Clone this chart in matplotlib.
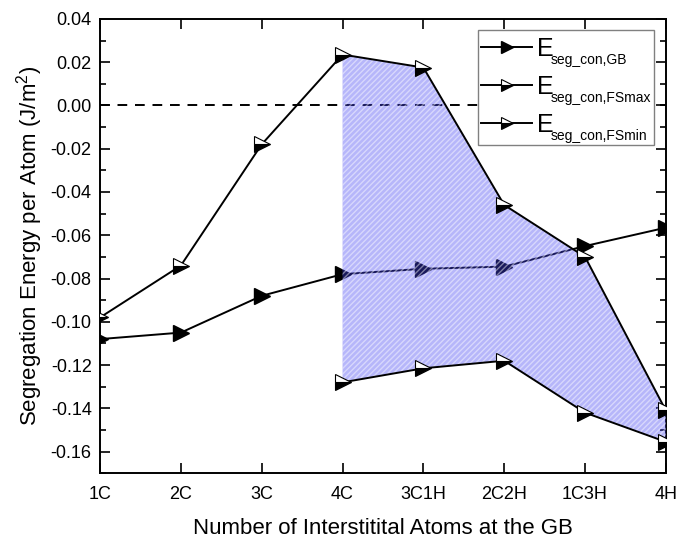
import matplotlib.pyplot as plt
import numpy as np
from matplotlib.lines import Line2D
from matplotlib.patches import Rectangle
from matplotlib.ticker import MultipleLocator

plt.rcParams['font.family'] = ['Liberation Sans', 'DejaVu Sans']
plt.rcParams['mathtext.fontset'] = 'custom'
plt.rcParams['mathtext.rm'] = 'Liberation Sans'
plt.rcParams['hatch.linewidth'] = 1.0

# %%
# Data
# -------------------------
categories = ["1C", "2C", "3C", "4C", "3C1H", "2C2H", "1C3H", "4H"]
e_gb = [-0.108, -0.105, -0.088, -0.078, -0.0755, -0.0745, -0.065, -0.0565]
e_fsmax = [-0.098, -0.074, -0.018, 0.0235, 0.0175, -0.046, -0.070, -0.141]
e_fsmin = [np.nan, np.nan, np.nan, -0.128, -0.1215, -0.118, -0.142, -0.1555]
series_names = ["GB", "FSmax", "FSmin"]

x = np.arange(len(categories))

W, H = 6.76, 5.39
fig = plt.figure(figsize=(W, H), dpi=100)
ax = fig.add_axes([0.148, 0.122, 0.837, 0.843])

ax.plot([x[0], x[-1]], [0, 0], color="black", ls=(0, (5, 4)), lw=1.4, zorder=1)

gb_style = dict(color="black", lw=1.4, marker=">", ms=11, mfc="black", mec="black")
fs_style = dict(color="black", lw=1.4, marker=">", ms=11, fillstyle="bottom",
                mfc="black", mfcalt="white", mec="black", mew=0.8)

ax.plot(x, e_gb, zorder=2, **gb_style)

# shaded band between FS curves (over the GB line, under the FS lines)
sel = x >= 3
ax.fill_between(x[sel], np.array(e_fsmin)[sel], np.array(e_fsmax)[sel],
                facecolor=(0.25, 0.25, 0.95, 0.38), edgecolor=(1, 1, 1, 0.45),
                hatch="//////", linewidth=0, zorder=3)

ax.plot(x, e_fsmax, zorder=4, **fs_style)
ax.plot(x, e_fsmin, zorder=4, **fs_style)

ax.set_xlim(0, 7)
ax.set_ylim(-0.17, 0.04)
ax.set_xticks(x)
ax.set_xticklabels(categories)
ax.yaxis.set_major_locator(MultipleLocator(0.02))
ax.yaxis.set_minor_locator(MultipleLocator(0.01))
ax.yaxis.set_major_formatter(plt.FuncFormatter(lambda v, p: f"{v:.2f}"))
ax.tick_params(which="both", direction="in", top=True, right=True,
               labelsize=13, width=1.2)
ax.tick_params(axis="x", pad=9)
ax.tick_params(axis="y", pad=6)
ax.tick_params(which="major", length=7)
ax.tick_params(which="minor", length=4)
for s in ax.spines.values():
    s.set_linewidth(1.4)

ax.set_xlabel("Number of Interstitital Atoms at the GB", fontsize=16, labelpad=11)
ax.set_ylabel(r"Segregation Energy per Atom (J/m$^\mathrm{2}$)", fontsize=16, labelpad=4)

# legend box drawn by hand so the subscripts can be smaller than the "E"
tr = fig.dpi_scale_trans
def inch(px, py):
    return px / 100, H - py / 100

x0, y0 = inch(478, 145)
x1, y1 = inch(654, 30)
fig.add_artist(Rectangle((x0, y0), x1 - x0, y1 - y0, transform=tr,
                         facecolor="white", edgecolor="gray", lw=1.0, zorder=5))
for i, name in enumerate(series_names):
    row = 47 + 38 * i
    la, yy = inch(481, row)
    lb, _ = inch(532, row)
    style = gb_style if i == 0 else fs_style
    fig.add_artist(Line2D([la, lb], [yy, yy], transform=tr, zorder=6,
                          **{k: v for k, v in style.items() if k not in ("marker", "ms")}))
    fig.add_artist(Line2D([(la + lb) / 2 + 0.01], [yy], transform=tr, zorder=7,
                          **{**style, "lw": 0, "ms": 8}))
    ex, ey = inch(537, row + 9)
    fig.text(ex, ey, "E", transform=tr, fontsize=18, zorder=7)
    sx, sy = inch(551, row + 17)
    fig.text(sx, sy, "seg_con," + name, transform=tr, fontsize=10, zorder=7)

fig.savefig("out.png", dpi=100)
